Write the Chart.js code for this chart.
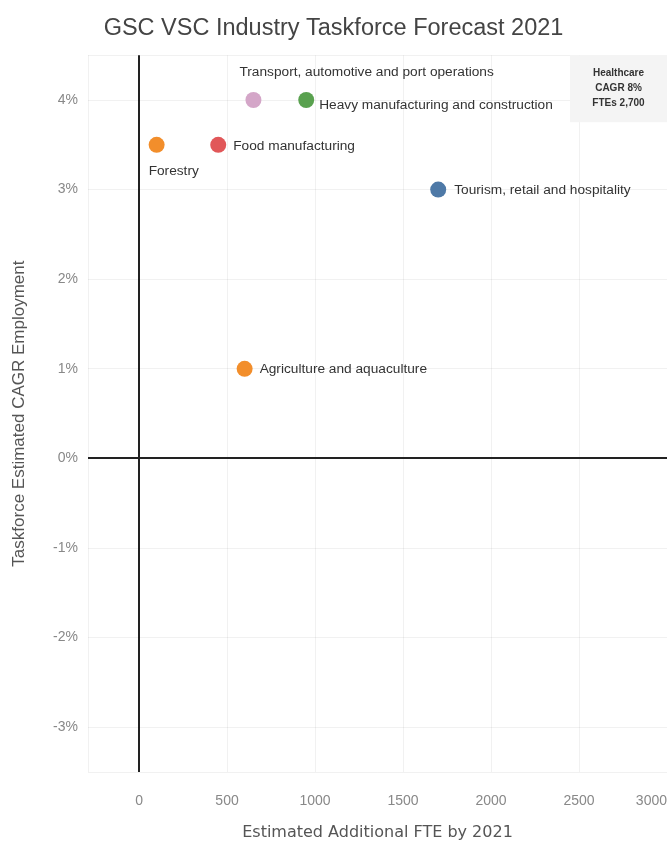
<!DOCTYPE html>
<html>
<head>
<meta charset="utf-8">
<script src="https://cdn.jsdelivr.net/npm/chart.js@4.4.1/dist/chart.umd.min.js"></script>
<style>
  html, body { margin: 0; padding: 0; background: #fff; overflow: hidden; }
  canvas { display: block; }
</style>
</head>
<body>
<canvas id="c" width="667" height="842" style="width:667px;height:842px"></canvas>
<script>
// ---- Data ----
const categories = [
  'Transport, automotive and port operations',
  'Heavy manufacturing and construction',
  'Forestry',
  'Food manufacturing',
  'Tourism, retail and hospitality',
  'Agriculture and aquaculture'
];
const fteValues  = [650, 950, 100, 450, 1700, 600];   // Estimated Additional FTE by 2021
const cagrValues = [4, 4, 3.5, 3.5, 3, 1];            // Taskforce Estimated CAGR Employment (%)
const xTickValues = [0, 500, 1000, 1500, 2000, 2500, 3000];
const yTickValues = [-3, -2, -1, 0, 1, 2, 3, 4];
const noteLines = ['Healthcare', 'CAGR 8%', 'FTEs 2,700'];

// ---- Styling ----
const pointColors = ['#d4a6c8', '#59a14f', '#f28e2b', '#e15759', '#4e79a7', '#f28e2b'];
// label offsets relative to each point: [dx, dy]
const labelOffsets = [[-14, -28], [13, 5], [-8, 26], [15, 1], [16, 1], [15, 0]];

const pointLabels = {
  id: 'pointLabels',
  afterDatasetsDraw(chart) {
    const ctx = chart.ctx;
    const meta = chart.getDatasetMeta(0);
    ctx.save();
    ctx.font = '13.7px "Liberation Sans", Arial, sans-serif';
    ctx.fillStyle = '#333';
    ctx.textAlign = 'left';
    ctx.textBaseline = 'middle';
    meta.data.forEach((pt, i) => {
      const [dx, dy] = labelOffsets[i];
      ctx.fillText(categories[i], pt.x + dx, pt.y + dy);
    });
    // Healthcare note box (top-right corner of plot)
    const a = chart.chartArea;
    const w = 97, h = 67;
    ctx.fillStyle = '#f4f4f4';
    ctx.fillRect(a.right - w, a.top, w, h);
    ctx.fillStyle = '#333';
    ctx.font = 'bold 10px "Liberation Sans", Arial, sans-serif';
    ctx.textAlign = 'center';
    noteLines.forEach((t, i) => ctx.fillText(t, a.right - w / 2, a.top + 18 + i * 15));
    ctx.restore();
  }
};

const gridColor = (c) => c.tick && c.tick.value === 0 ? '#222' : 'rgba(0,0,0,0.055)';
const gridWidth = (c) => c.tick && c.tick.value === 0 ? 2 : 1;

new Chart(document.getElementById('c'), {
  type: 'scatter',
  data: {
    datasets: [{
      data: fteValues.map((x, i) => ({ x, y: cagrValues[i] })),
      backgroundColor: pointColors,
      borderColor: pointColors,
      pointRadius: 8,
      pointHoverRadius: 8,
      borderWidth: 0
    }]
  },
  options: {
    responsive: false,
    maintainAspectRatio: false,
    animation: false,
    devicePixelRatio: 1,
    layout: { autoPadding: false, padding: { left: 0, right: 0, top: 0, bottom: 0 } },
    plugins: {
      legend: { display: false },
      tooltip: { enabled: false },
      title: {
        display: true,
        text: 'GSC VSC Industry Taskforce Forecast 2021',
        color: '#444',
        font: { family: '"Liberation Sans", Arial, sans-serif', size: 23.5, weight: 'normal' },
        padding: { top: 14, bottom: 13 }
      }
    },
    scales: {
      x: {
        type: 'linear',
        min: -290,
        max: 3000,
        afterBuildTicks: (s) => { s.ticks = [{ value: s.min }].concat(xTickValues.map(v => ({ value: v }))); },
        afterFit: (s) => { s.height = 70; s.paddingLeft = 0; s.paddingRight = 0; },
        ticks: {
          align: 'inner',
          autoSkip: false,
          maxRotation: 0,
          minRotation: 0,
          color: '#888',
          padding: 21,
          font: { family: '"Liberation Sans", Arial, sans-serif', size: 14 },
          callback: (v) => xTickValues.includes(v) ? String(v) : ''
        },
        grid: { color: gridColor, lineWidth: gridWidth, drawTicks: false },
        border: { display: false },
        title: {
          display: true,
          text: 'Estimated Additional FTE by 2021',
          color: '#555',
          font: { family: '"DejaVu Sans", sans-serif', size: 16 },
          padding: { top: 1, bottom: 0 }
        }
      },
      y: {
        type: 'linear',
        min: -3.5,
        max: 4.5,
        afterBuildTicks: (s) => { s.ticks = [{ value: s.min }].concat(yTickValues.map(v => ({ value: v })), [{ value: s.max }]); },
        afterFit: (s) => { s.width = 88; },
        ticks: {
          autoSkip: false,
          color: '#888',
          padding: 10,
          font: { family: '"Liberation Sans", Arial, sans-serif', size: 14 },
          callback: (v) => yTickValues.includes(v) ? v + '%' : ''
        },
        grid: { color: gridColor, lineWidth: gridWidth, drawTicks: false },
        border: { display: false },
        title: {
          display: true,
          text: 'Taskforce Estimated CAGR Employment',
          color: '#555',
          font: { family: '"Liberation Sans", Arial, sans-serif', size: 17 },
          padding: { top: 9, bottom: 4 }
        }
      }
    }
  },
  plugins: [pointLabels]
});
</script>
</body>
</html>
